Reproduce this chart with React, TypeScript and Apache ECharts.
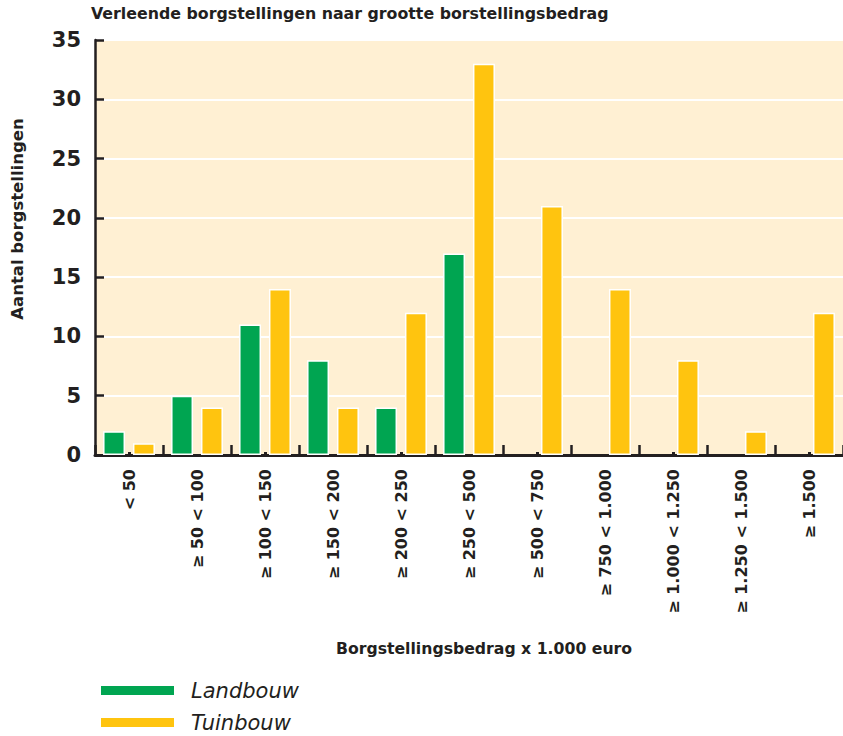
import React, { useEffect, useRef } from "react";
import * as echarts from "echarts";

const categories = [
  "< 50",
  "≥ 50 < 100",
  "≥ 100 < 150",
  "≥ 150 < 200",
  "≥ 200 < 250",
  "≥ 250 < 500",
  "≥ 500 < 750",
  "≥ 750 < 1.000",
  "≥ 1.000 < 1.250",
  "≥ 1.250 < 1.500",
  "≥ 1.500",
];
const landbouw: (number | null)[] = [2, 5, 11, 8, 4, 17, null, null, null, null, null];
const tuinbouw: number[] = [1, 4, 14, 4, 12, 33, 21, 14, 8, 2, 12];
const yMin = 0;
const yMax = 35;
const yStep = 5;

const titleText = "Verleende borgstellingen naar grootte borstellingsbedrag";
const yName = "Aantal borgstellingen";
const xName = "Borgstellingsbedrag x 1.000 euro";

const INK = "#231f20";
const GREEN = "#00a551";
const YELLOW = "#ffc40f";
const BG = "#fff0d3";
const FONT = "'DejaVu Sans', 'Open Sans', sans-serif";

export default function App() {
  const ref = useRef<HTMLDivElement>(null);
  useEffect(() => {
    if (!ref.current) return;
    const chart = echarts.init(ref.current, undefined, { renderer: "svg" });
    chart.setOption({
      animation: false,
      textStyle: { fontFamily: FONT, color: INK },
      title: {
        text: titleText,
        left: 91,
        top: 5,
        padding: 0,
        textStyle: { fontFamily: FONT, fontSize: 15.8, fontWeight: "bold", color: INK },
      },
      legend: {
        orient: "vertical",
        left: 99,
        top: 680,
        padding: 0,
        itemWidth: 75,
        itemHeight: 11,
        itemGap: 11,
        icon: "rect",
        data: ["Landbouw", "Tuinbouw"],
        textStyle: {
          fontFamily: FONT,
          fontSize: 21,
          fontStyle: "italic",
          color: INK,
          padding: [0, 0, 0, 11],
        },
      },
      grid: {
        left: 95,
        top: 40,
        width: 753,
        height: 415,
        show: true,
        backgroundColor: BG,
        borderWidth: 0,
      },
      xAxis: [
        {
          type: "category",
          data: categories,
          axisLine: { show: true, lineStyle: { color: INK, width: 3 } },
          axisTick: { show: true, inside: true, length: 10, lineStyle: { color: INK, width: 2.5 } },
          axisLabel: {
            rotate: 90,
            interval: 0,
            margin: 14,
            fontFamily: FONT,
            fontSize: 16,
            fontWeight: "bold",
            color: INK,
          },
          splitLine: { show: false },
        },
        {
          type: "category",
          data: categories,
          position: "bottom",
          axisLine: { show: false },
          axisTick: { show: true, inside: true, alignWithLabel: true, length: 3, lineStyle: { color: INK, width: 3 } },
          axisLabel: { show: false },
          splitLine: { show: false },
        },
      ],
      yAxis: {
        type: "value",
        min: yMin,
        max: yMax,
        interval: yStep,
        axisLine: { show: true, lineStyle: { color: INK, width: 2.5 } },
        axisTick: { show: true, inside: true, length: 9, lineStyle: { color: INK, width: 2.5 } },
        axisLabel: {
          margin: 14,
          fontFamily: FONT,
          fontSize: 21,
          fontWeight: "bold",
          color: INK,
        },
        splitLine: { show: true, lineStyle: { color: "#ffffff", width: 2 } },
      },
      graphic: [
        {
          type: "text",
          x: 17,
          y: 219,
          rotation: Math.PI / 2,
          style: {
            text: yName,
            fontFamily: FONT,
            fontSize: 16.5,
            fontWeight: "bold",
            fill: INK,
            textAlign: "center",
            textVerticalAlign: "middle",
          },
        },
        {
          type: "text",
          x: 484,
          y: 648,
          style: {
            text: xName,
            fontFamily: FONT,
            fontSize: 15.7,
            fontWeight: "bold",
            fill: INK,
            textAlign: "center",
            textVerticalAlign: "middle",
          },
        },
      ],
      series: [
        {
          name: "Landbouw",
          type: "bar",
          data: landbouw,
          barWidth: 22,
          barGap: "36%",
          itemStyle: { color: GREEN, borderColor: "#ffffff", borderWidth: 1.5 },
        },
        {
          name: "Tuinbouw",
          type: "bar",
          data: tuinbouw,
          barWidth: 22,
          barGap: "36%",
          itemStyle: { color: YELLOW, borderColor: "#ffffff", borderWidth: 1.5 },
        },
      ],
    });
    return () => chart.dispose();
  }, []);
  return (
    <div
      ref={ref}
      style={{ position: "absolute", left: 0, top: 0, width: 843, height: 736 }}
    />
  );
}
